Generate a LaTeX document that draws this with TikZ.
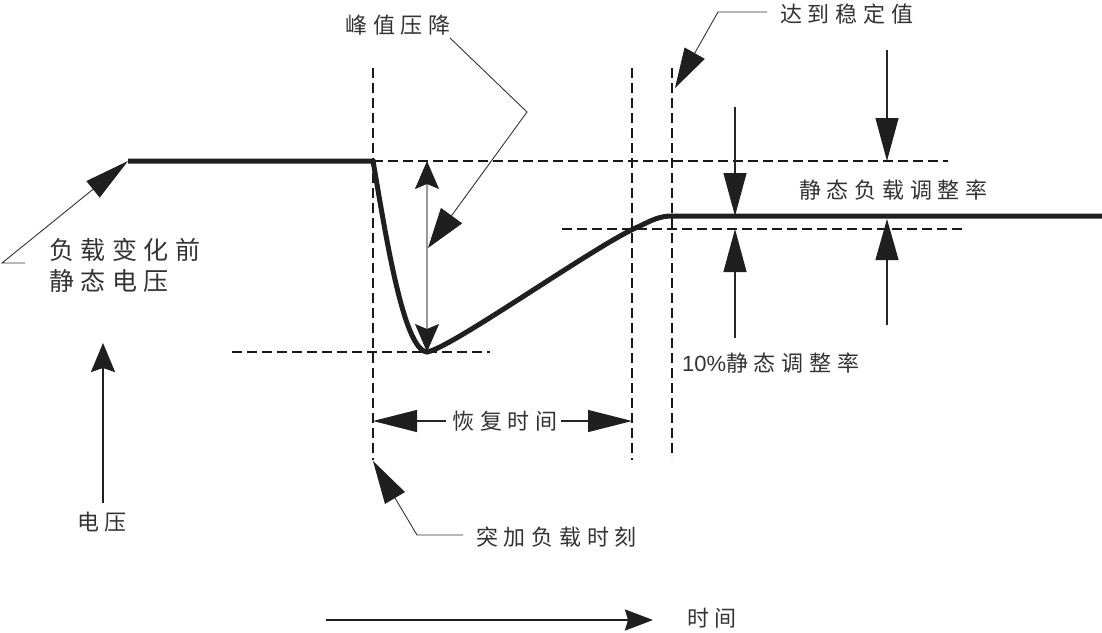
\documentclass[tikz,border=0pt]{standalone}
\usepackage{fontspec}
\setmainfont{Liberation Sans}
\newfontfamily\cjk[LetterSpace=26]{Noto Sans CJK SC}
\usetikzlibrary{arrows.meta}
\begin{document}
\begin{tikzpicture}[x=1pt,y=-1pt,
  curve/.style={line width=5pt, draw=black!88},
  dashline/.style={draw=black!90, line width=2.1pt, dash pattern=on 10pt off 5pt},
  leader/.style={draw=black!80, line width=0.9pt},
  shaft/.style={draw=black!85, line width=1.1pt},
  axisline/.style={draw=black!88, line width=2.2pt},
  lbl/.style={inner sep=0pt, text=black!80, font=\fontsize{22pt}{26pt}\cjk\selectfont},
]
\useasboundingbox (0,0) rectangle (1102,632);

% key points
\coordinate (c0) at (128,161);
\coordinate (c1) at (373,161);
\coordinate (cmin) at (427,352);
\coordinate (c2) at (640,226);
\coordinate (c3) at (672,216);
\coordinate (c4) at (1102,216);

% dashed guides
\coordinate (v1t) at (373,68);  \coordinate (v1b) at (373,460);
\coordinate (v2t) at (632,68);  \coordinate (v2b) at (632,460);
\coordinate (v3t) at (672,68);  \coordinate (v3b) at (672,458);
\coordinate (h1l) at (373,161); \coordinate (h1r) at (948,161);
\coordinate (h2l) at (562,229); \coordinate (h2r) at (963,229);
\coordinate (h3l) at (232,352); \coordinate (h3r) at (490,352);
\draw[dashline] (v1t) -- (v1b);
\draw[dashline] (v2t) -- (v2b);
\draw[dashline] (v3t) -- (v3b);
\draw[dashline] (h1l) -- (h1r);
\draw[dashline] (h2l) -- (h2r);
\draw[dashline] (h3l) -- (h3r);

% main voltage curve
\draw[curve] (c0) -- (c1) .. controls (385,230) and (403,350) .. (cmin)
  .. controls (452,348) and (600,242) .. (c2)
  .. controls (652,220) and (660,216) .. (c3) -- (c4);

% peak drop double arrow
\coordinate (pdt) at (427,161);
\coordinate (pdb) at (427,352);
\draw[draw=black!40, line width=1.2pt,
  {Stealth[length=28pt,width=24pt,inset=5pt,black!88]}-{Stealth[length=28pt,width=24pt,inset=5pt,black!88]}] (pdt) -- (pdb);

% 峰值压降
\node[lbl] (pk) at (398,25) {峰值压降};
\coordinate (pk1) at (450,38);
\coordinate (pk2) at (527,112);
\coordinate (pk3) at (428,248);
\draw[leader, -{Triangle[length=40pt,width=26pt,black!88]}] (pk1) -- (pk2) -- (pk3);

% 负载变化前 静态电压
\node[lbl, anchor=west, align=left, font=\fontsize{25pt}{31pt}\cjk\selectfont] (pre) at (49,265) {负载变化前\\静态电压};
\coordinate (pr1) at (25,263);
\coordinate (pr2) at (2,263);
\draw[leader, -{Triangle[length=45pt,width=21pt,black!88]}] (pr1) -- (pr2) -- (c0);

% voltage axis
\coordinate (va0) at (103,503);
\coordinate (va1) at (103,343);
\draw[axisline, -{Stealth[length=29pt,width=24pt,inset=4pt]}] (va0) -- (va1);
\node[lbl] (vlab) at (102,522) {电压};

% time axis
\coordinate (ta0) at (326,620);
\coordinate (ta1) at (653,620);
\draw[axisline, -{Stealth[length=28pt,width=21pt,inset=3pt]}] (ta0) -- (ta1);
\node[lbl] (tlab) at (712,618) {时间};

% 恢复时间
\node[lbl] (rec) at (505,421) {恢复时间};
\coordinate (rl) at (373,421);
\coordinate (rr) at (632,421);
\draw[shaft, -{Triangle[length=44pt,width=22pt,black!88]}] ([xshift=-6pt]rec.west) -- (rl);
\draw[shaft, -{Triangle[length=44pt,width=22pt,black!88]}] ([xshift=3pt]rec.east) -- (rr);

% 突加负载时刻
\node[lbl, anchor=west] (sud) at (476,537) {突加负载时刻};
\coordinate (sd1) at (463,535);
\coordinate (sd2) at (417,535);
\coordinate (sd3) at (373,461);
\draw[leader, -{Triangle[length=43pt,width=23pt,black!88]}] (sd1) -- (sd2) -- (sd3);

% 达到稳定值
\node[lbl, anchor=west] (st) at (780,14) {达到稳定值};
\coordinate (st1) at (767,12);
\coordinate (st2) at (718,12);
\coordinate (st3) at (675,88);
\draw[leader, -{Triangle[length=40pt,width=23pt,black!88]}] (st1) -- (st2) -- (st3);

% 静态负载调整率 arrows
\coordinate (ra0) at (887,50);
\coordinate (ra1) at (887,161);
\coordinate (rb0) at (887,325);
\coordinate (rb1) at (887,219);
\draw[shaft, -{Triangle[length=43pt,width=23pt,black!88]}] (ra0) -- (ra1);
\draw[shaft, -{Triangle[length=41pt,width=23pt,black!88]}] (rb0) -- (rb1);
\node[lbl, anchor=west] (sl) at (799,190) {静态负载调整率};

% 10% arrows
\coordinate (ta) at (735,107);
\coordinate (tb) at (735,216);
\coordinate (tc) at (735,338);
\coordinate (td) at (735,229);
\draw[shaft, -{Triangle[length=43pt,width=23pt,black!88]}] (ta) -- (tb);
\draw[shaft, -{Triangle[length=43pt,width=23pt,black!88]}] (tc) -- (td);
\node[lbl, anchor=west] (ten) at (682,363) {{\rmfamily\addfontfeature{LetterSpace=0}10\%}静态调整率};
\end{tikzpicture}
\end{document}
